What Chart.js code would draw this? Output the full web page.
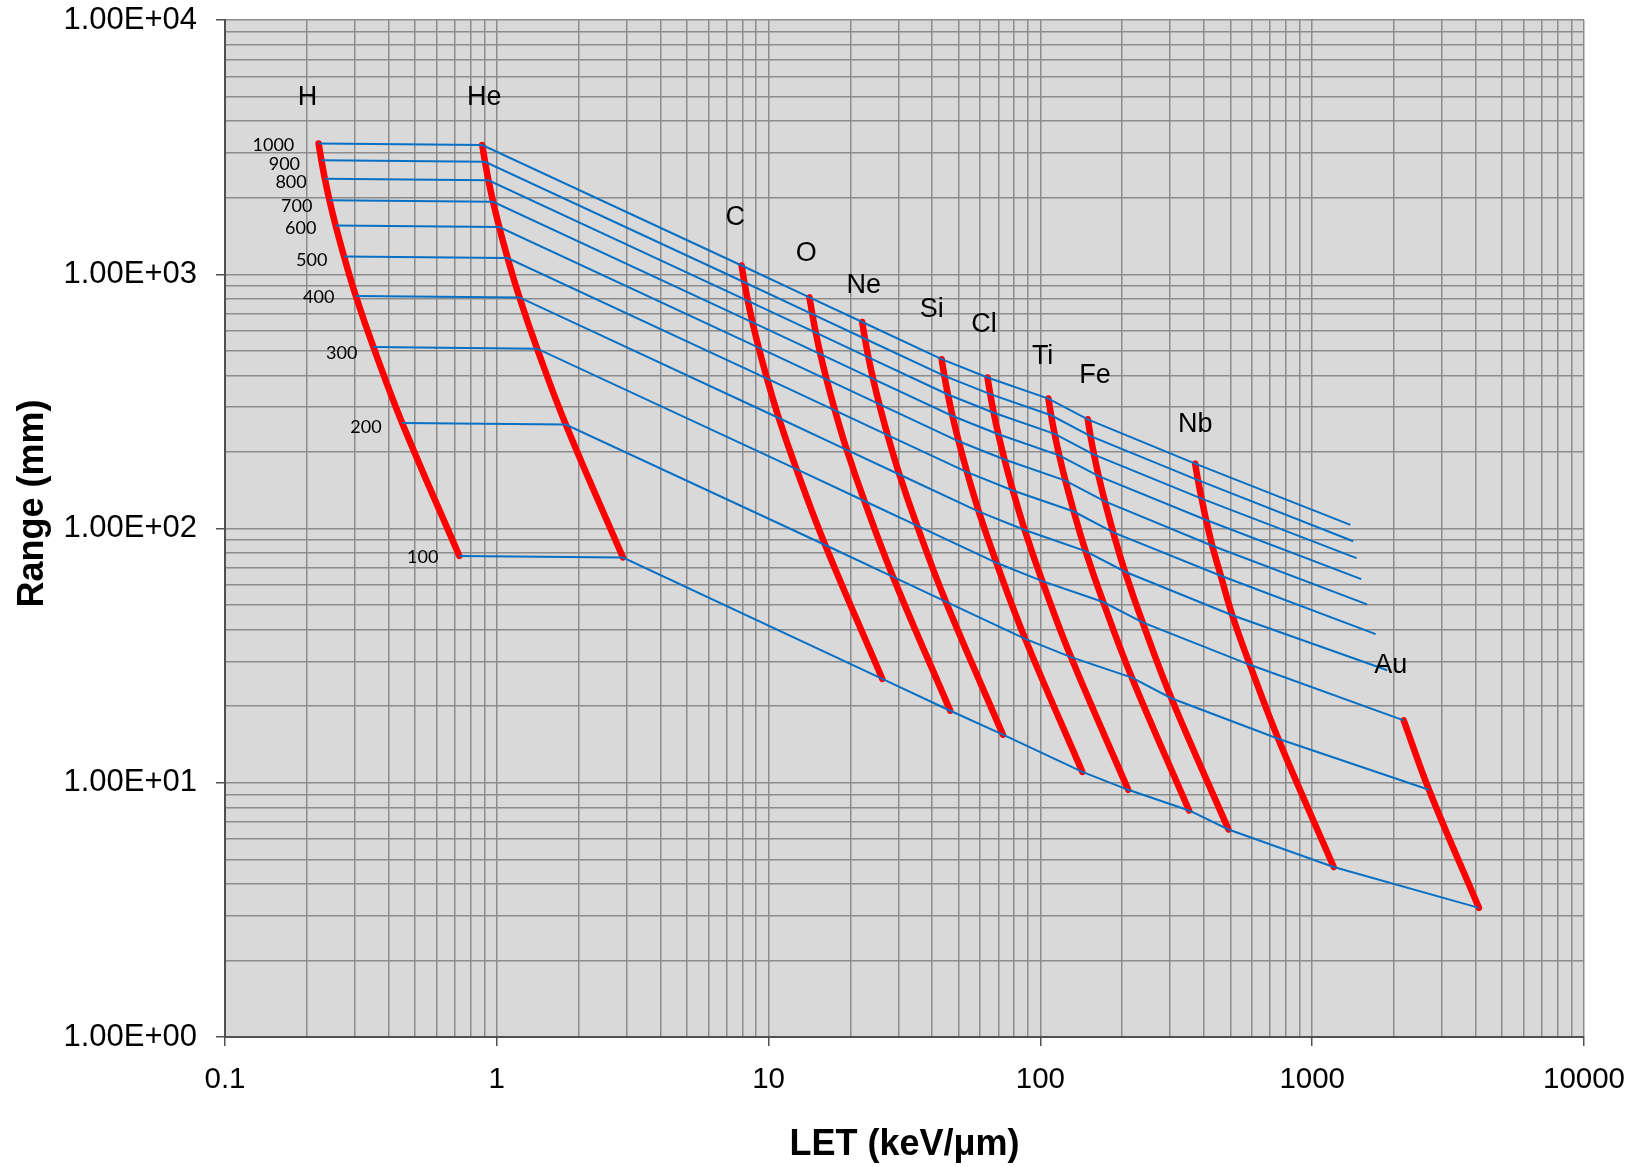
<!DOCTYPE html>
<html>
<head>
<meta charset="utf-8">
<title>Range vs LET</title>
<script src="https://cdn.jsdelivr.net/npm/chart.js@4.4.1/dist/chart.umd.min.js"></script>
<style>
  html, body { margin: 0; padding: 0; background: #ffffff; }
  canvas { display: block; }
</style>
</head>
<body>
<canvas id="chart" width="1640" height="1167"></canvas>
<script>
// Kinetic energies (MeV/n) of the iso-energy lines
const energies = [100, 200, 300, 400, 500, 600, 700, 800, 900, 1000];
const ions = ['H', 'He', 'C', 'O', 'Ne', 'Si', 'Cl', 'Ti', 'Fe', 'Nb', 'Au'];

// LET (keV/um) and range (mm) of each ion at the energies above
const letH    = [0.728, 0.4486, 0.3517, 0.3029, 0.2741, 0.2553, 0.2423, 0.2330, 0.2262, 0.2210];
const rangeH  = [78.0, 260, 517, 822, 1175, 1555, 1955, 2375, 2810, 3270];
const letHe   = [2.912, 1.794, 1.407, 1.212, 1.096, 1.021, 0.969, 0.932, 0.905, 0.884];
const rangeHe = [76.9, 256.4, 509.8, 810.5, 1158.6, 1533.2, 1927.6, 2341.8, 2770.7, 3224.2];
const letC    = [26.21, 16.15, 12.66, 10.90, 9.868, 9.191, 8.723, 8.388, 8.143, 7.956];
const rangeC  = [25.6, 86.1, 171.1, 272.1, 388.9, 514.7, 647.1, 786.1, 930.1, 1082.4];
const letO    = [46.59, 28.71, 22.51, 19.39, 17.54, 16.34, 15.51, 14.91, 14.48, 14.14];
const rangeO  = [19.2, 64.5, 128.3, 203.9, 291.5, 385.8, 485.0, 589.2, 697.2, 811.3];
const letNe   = [72.8, 44.86, 35.17, 30.29, 27.41, 25.53, 24.23, 23.30, 22.62, 22.10];
const rangeNe = [15.45, 51.6, 102.6, 163.1, 233.1, 308.5, 387.9, 471.2, 557.5, 648.8];
const letSi   = [142.7, 87.93, 68.93, 59.37, 53.72, 50.04, 47.49, 45.67, 44.34, 43.32];
const rangeSi = [11.03, 36.8, 73.3, 116.5, 166.5, 220.3, 277.0, 336.5, 398.2, 463.4];
const letCl   = [210.4, 129.6, 101.6, 87.54, 79.21, 73.78, 70.02, 67.34, 65.37, 63.87];
const rangeCl = [9.38, 31.2, 62.1, 98.7, 141.1, 186.8, 234.8, 285.2, 337.5, 392.7];
const letTi   = [352.4, 217.1, 170.2, 146.6, 132.7, 123.6, 117.3, 112.8, 109.5, 107.0];
const rangeTi = [7.78, 25.9, 51.4, 81.5, 116.6, 154.3, 193.9, 235.6, 278.8, 324.4];
const letFe   = [492.1, 303.3, 237.7, 204.8, 185.3, 172.6, 163.8, 157.5, 152.9, 149.4];
const rangeFe = [6.55, 21.5, 42.7, 67.6, 96.6, 127.8, 160.7, 195.2, 231.0, 268.8];
const letNb   = [1200, 750, 590, 508, 461, 429, 407, 392, 380, 371];
const rangeNb = [4.66, 14.9, 29.1, 45.6, 65.2, 85.5, 108, 131, 155, 180];
const letAu   = [4107, 2689, 2171, 1890, 1712, 1592, 1515, 1456, 1415, 1382];
const rangeAu = [3.22, 9.39, 17.6, 27.7, 38.4, 50.3, 63.2, 76.5, 89.1, 103.4];

// Number of energies (from 100 MeV/n up) joined by each ion's curve
const curveLength = [10, 10, 10, 10, 10, 10, 10, 10, 10, 10, 3];

// Axis ticks
const xTickValues = [0.1, 1, 10, 100, 1000, 10000];
const xTickLabels = ['0.1', '1', '10', '100', '1000', '10000'];
const yTickValues = [1, 10, 100, 1000, 10000];
const yTickLabels = ['1.00E+00', '1.00E+01', '1.00E+02', '1.00E+03', '1.00E+04'];

// Anchor points (LET, range) of the ion names and energy captions
const ionLabelLET   = [0.201, 0.90, 7.54, 13.76, 22.4, 39.8, 62.0, 101.9, 158.7, 371, 1946];
const ionLabelRange = [4960, 4960, 1670, 1209, 902, 725, 635, 473, 399, 256, 28.9];
const energyLabelLET   = [0.5339, 0.3302, 0.2689, 0.2213, 0.2085, 0.1900, 0.1837, 0.1750, 0.1654, 0.1507];
const energyLabelRange = [76.9, 249.6, 488, 810, 1136, 1514, 1858, 2309, 2711, 3220];

const ionLET   = [letH, letHe, letC, letO, letNe, letSi, letCl, letTi, letFe, letNb, letAu];
const ionRange = [rangeH, rangeHe, rangeC, rangeO, rangeNe, rangeSi, rangeCl, rangeTi, rangeFe, rangeNb, rangeAu];

const FONT = "'Liberation Sans', Arial, Helvetica, sans-serif";

function decadeIndex(values, v) {
  return values.findIndex(t => Math.abs(Math.log10(t) - Math.log10(v)) < 1e-6);
}

// 1..9 x 10^n ticks so every minor grid line is drawn
function logTicks(min, max) {
  const out = [];
  const e0 = Math.round(Math.log10(min));
  const e1 = Math.round(Math.log10(max));
  for (let e = e0; e < e1; e++) {
    for (let m = 1; m <= 9; m++) {
      out.push({ value: parseFloat((m * Math.pow(10, e)).toPrecision(6)) });
    }
  }
  out.push({ value: max });
  return out;
}

const datasets = [];

// Iso-energy lines through all ions
energies.forEach((e, k) => {
  datasets.push({
    label: e + ' MeV/n',
    data: ionLET.map((l, j) => ({ x: l[k], y: ionRange[j][k] })),
    borderColor: '#0870c4',
    borderWidth: 2,
    pointRadius: 0,
    tension: 0,
    order: 0
  });
});

// One smooth curve per ion across energies
ions.forEach((name, j) => {
  const n = curveLength[j];
  datasets.push({
    label: name,
    data: ionLET[j].slice(0, n).map((x, i) => ({ x: x, y: ionRange[j][i] })),
    borderColor: '#ff0000',
    borderWidth: 6.5,
    borderCapStyle: 'round',
    borderJoinStyle: 'round',
    pointRadius: 0,
    tension: 0.4,
    order: 1
  });
});

const plotBackground = {
  id: 'plotBackground',
  beforeDraw(chart) {
    const { ctx, chartArea: a } = chart;
    ctx.save();
    ctx.fillStyle = '#d9d9d9';
    ctx.fillRect(a.left, a.top, a.right - a.left, a.bottom - a.top);
    ctx.restore();
  }
};

const textLabels = {
  id: 'textLabels',
  afterDatasetsDraw(chart) {
    const { ctx, scales } = chart;
    ctx.save();
    ctx.fillStyle = '#000000';
    ctx.textAlign = 'center';
    ctx.textBaseline = 'middle';
    ctx.font = '27px ' + FONT;
    ions.forEach((name, j) => {
      ctx.fillText(name, scales.x.getPixelForValue(ionLabelLET[j]), scales.y.getPixelForValue(ionLabelRange[j]));
    });
    ctx.font = "18px Lato, 'Open Sans', sans-serif";
    energies.forEach((e, k) => {
      ctx.fillText(String(e), scales.x.getPixelForValue(energyLabelLET[k]), scales.y.getPixelForValue(energyLabelRange[k]));
    });
    ctx.restore();
  }
};

const gridStyle = (values) => ({
  color: '#8c8c8c',
  lineWidth: 1.5,
  drawTicks: true,
  tickLength: 9,
  tickWidth: 1.5,
  tickColor: (c) => (c.tick && decadeIndex(values, c.tick.value) >= 0) ? '#505050' : 'rgba(0,0,0,0)'
});

new Chart(document.getElementById('chart'), {
  type: 'line',
  data: { datasets: datasets },
  plugins: [plotBackground, textLabels],
  options: {
    responsive: false,
    devicePixelRatio: 1,
    animation: false,
    layout: { padding: { left: 0, top: 20, right: 56, bottom: 0 } },
    plugins: {
      legend: { display: false },
      tooltip: { enabled: false }
    },
    scales: {
      x: {
        type: 'logarithmic',
        min: 0.1,
        max: 10000,
        afterBuildTicks: (s) => { s.ticks = logTicks(0.1, 10000); },
        afterFit: (s) => { s.height = 130; s.paddingLeft = 0; s.paddingRight = 0; },
        ticks: {
          autoSkip: false,
          maxRotation: 0,
          padding: 16,
          color: '#000000',
          font: { family: FONT, size: 29.5 },
          callback: (v) => { const i = decadeIndex(xTickValues, v); return i >= 0 ? xTickLabels[i] : ''; }
        },
        grid: gridStyle(xTickValues),
        border: { color: '#505050', width: 2 },
        title: {
          display: true,
          text: 'LET (keV/\u03bcm)',
          color: '#000000',
          font: { family: FONT, size: 36, weight: 'bold' },
          padding: { top: 0, bottom: 0 }
        }
      },
      y: {
        type: 'logarithmic',
        min: 1,
        max: 10000,
        afterBuildTicks: (s) => { s.ticks = logTicks(1, 10000); },
        afterFit: (s) => { s.width = 225; s.paddingTop = 0; s.paddingBottom = 0; },
        ticks: {
          autoSkip: false,
          padding: 19,
          color: '#000000',
          font: { family: FONT, size: 31 },
          callback: (v) => { const i = decadeIndex(yTickValues, v); return i >= 0 ? yTickLabels[i] : ''; }
        },
        grid: gridStyle(yTickValues),
        border: { color: '#505050', width: 2 },
        title: {
          display: true,
          // leading spaces lift the caption slightly above the axis centre
          text: '\u00a0\u00a0\u00a0\u00a0\u00a0Range (mm)',
          color: '#000000',
          font: { family: FONT, size: 36, weight: 'bold' },
          padding: { top: 11, bottom: 0 }
        }
      }
    }
  }
});
</script>
</body>
</html>
